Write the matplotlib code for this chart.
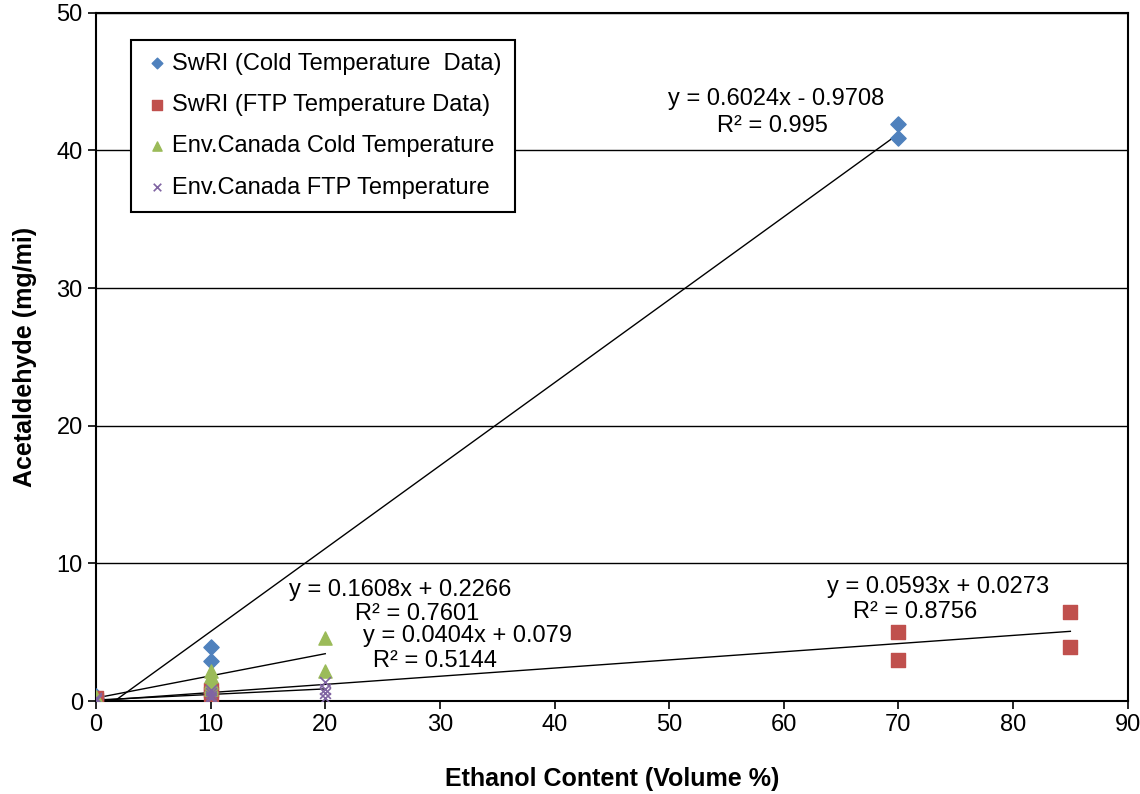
import numpy as np
import matplotlib.pyplot as plt

plt.rcParams["font.family"] = ["Liberation Sans", "DejaVu Sans"]

# ---- data ----
swri_cold_x = [0, 0, 10, 10, 70, 70]
swri_cold_y = [0.2, 0.4, 3.9, 2.9, 41.9, 40.9]

swri_ftp_x = [0, 0, 10, 10, 70, 70, 85, 85]
swri_ftp_y = [0.1, 0.2, 0.8, 0.5, 5.0, 3.0, 6.5, 3.9]

canada_cold_x = [0, 0, 10, 10, 10, 10, 10, 20, 20]
canada_cold_y = [0.1, 0.3, 2.2, 1.8, 1.4, 1.1, 0.9, 4.6, 2.2]

canada_ftp_x = [0, 0, 10, 10, 10, 10, 20, 20, 20, 20]
canada_ftp_y = [0.05, 0.2, 0.8, 0.6, 0.4, 0.2, 1.4, 0.9, 0.6, 0.2]

# trendlines: slope, intercept, x range, label text, label positions
trend_slope = [0.6024, 0.1608, 0.0404, 0.0593]
trend_icpt = [-0.9708, 0.2266, 0.079, 0.0273]
trend_xmax = [70, 20, 20, 85]
eq_text = ["y = 0.6024x - 0.9708", "y = 0.1608x + 0.2266",
           "y = 0.0404x + 0.079", "y = 0.0593x + 0.0273"]
r2_text = ["R² = 0.995", "R² = 0.7601", "R² = 0.5144", "R² = 0.8756"]
eq_pos = [(59.3, 43.7), (26.5, 8.1), (32.4, 4.7), (73.5, 8.3)]
r2_pos = [(59.0, 41.8), (28.0, 6.3), (29.6, 2.9), (71.5, 6.5)]

fig = plt.figure(figsize=(11.4, 7.94), dpi=100)
ax = fig.add_axes([0.0842, 0.117, 0.905, 0.867])

ax.scatter(swri_cold_x, swri_cold_y, marker="D", s=60, color="#4F81BD",
           label="SwRI (Cold Temperature  Data)", zorder=3)
ax.scatter(swri_ftp_x, swri_ftp_y, marker="s", s=90, color="#C0504D",
           label="SwRI (FTP Temperature Data)", zorder=3)
ax.scatter(canada_cold_x, canada_cold_y, marker="^", s=90, color="#9BBB59",
           label="Env.Canada Cold Temperature", zorder=3)
ax.scatter(canada_ftp_x, canada_ftp_y, marker="x", s=60, color="#8064A2",
           linewidths=1.2, label="Env.Canada FTP Temperature", zorder=3)

for m, b, xm in zip(trend_slope, trend_icpt, trend_xmax):
    xs = np.array([0, xm])
    ax.plot(xs, m * xs + b, color="black", lw=1.0, zorder=2)

for t, (x, y) in zip(eq_text, eq_pos):
    ax.text(x, y, t, ha="center", va="center", fontsize=17)
for t, (x, y) in zip(r2_text, r2_pos):
    ax.text(x, y, t, ha="center", va="center", fontsize=17)

ax.set_xlim(0, 90)
ax.set_ylim(0, 50)
ax.set_xticks(np.arange(0, 91, 10))
ax.set_yticks(np.arange(0, 51, 10))
ax.tick_params(labelsize=17, direction="out", length=6, width=1.2)
ax.yaxis.grid(True, color="black", lw=1.0)
ax.set_axisbelow(True)
for s in ax.spines.values():
    s.set_linewidth(1.5)

ax.set_xlabel("Ethanol Content (Volume %)", fontsize=18, fontweight="bold",
              labelpad=22)
ax.set_ylabel("Acetaldehyde (mg/mi)", fontsize=18, fontweight="bold",
              labelpad=14)

leg = ax.legend(loc="upper left", bbox_to_anchor=(0.034, 0.961), fontsize=17,
                frameon=True, fancybox=False, framealpha=1, edgecolor="black",
                handletextpad=0.1, borderpad=0.55, labelspacing=0.82,
                handlelength=1.1, scatterpoints=1, markerscale=0.7,
                borderaxespad=0)
leg.get_frame().set_linewidth(1.5)

fig.savefig("out.png", dpi=100)
